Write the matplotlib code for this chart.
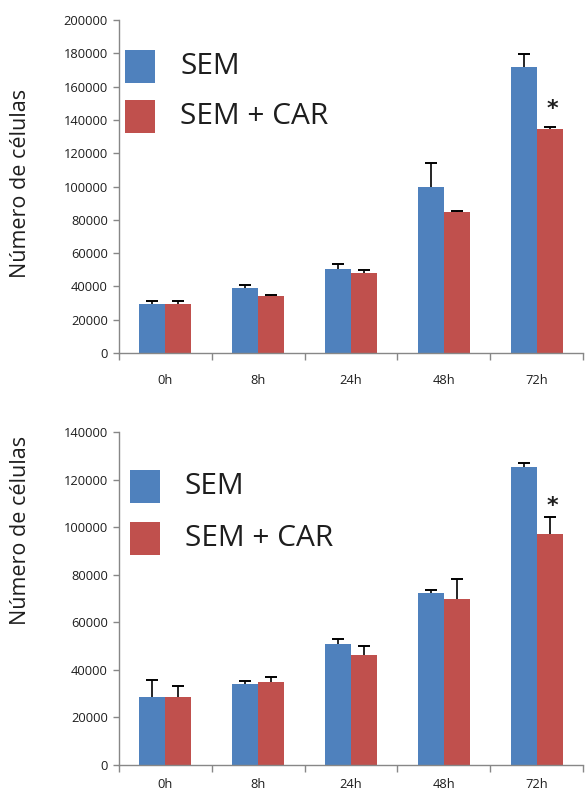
import matplotlib
matplotlib.use("Agg")
import matplotlib.pyplot as plt
from matplotlib.patches import Rectangle
import numpy as np

plt.rcParams['font.family'] = ['Open Sans', 'DejaVu Sans']

categories = ["0h", "8h", "24h", "48h", "72h"]
series_names = ["SEM", "SEM + CAR"]

# Top chart
top_sem = [29500, 39000, 50500, 100000, 172000]
top_sem_err = [1500, 1800, 3000, 14000, 7500]
top_car = [29500, 34500, 48000, 84500, 134500]
top_car_err = [1500, 300, 2000, 700, 1200]

# Bottom chart
bot_sem = [28600, 34000, 50900, 72300, 125300]
bot_sem_err = [7300, 1300, 2000, 1200, 1500]
bot_car = [28600, 34900, 46300, 69800, 97100]
bot_car_err = [4600, 2000, 3800, 8400, 7100]

top_ticks = list(range(0, 200001, 20000))
bot_ticks = list(range(0, 140001, 20000))

BLUE = "#4F81BD"
RED = "#C0504D"
AXGRAY = "#878787"
TXT = "#1e1e1e"

W, H = 585, 796
fig = plt.figure(figsize=(W / 100, H / 100), dpi=100)


def px_axes(left, top, right, bottom):
    return fig.add_axes([left / W, 1 - bottom / H, (right - left) / W, (bottom - top) / H])


def up_errors(ax, xs, vals, errs):
    vals = np.asarray(vals, dtype=float)
    tops = vals + np.asarray(errs, dtype=float)
    ax.vlines(xs, vals, tops, color='black', linewidth=1.2, zorder=3)
    ax.plot(xs, tops, linestyle='none', marker='_', markersize=9,
            markeredgewidth=1.4, color='black', zorder=3)


def legend_px(x0, y0, row_gap):
    sq_w, sq_h = 30, 33
    for k, (name, col) in enumerate(zip(series_names, [BLUE, RED])):
        top = y0 + k * row_gap
        fig.add_artist(Rectangle((x0 / W, 1 - (top + sq_h) / H), sq_w / W, sq_h / H,
                                 transform=fig.transFigure, facecolor=col,
                                 edgecolor='none'))
        fig.text((x0 + sq_w + 25) / W, 1 - (top + sq_h / 2) / H, name,
                 fontsize=21.5, color=TXT, ha='left', va='center')


def draw(ax, sem, sem_err, car, car_err, yticks, star_offset, ylabel_yc, xpad):
    x = np.arange(len(categories))
    bw = 0.28
    ax.bar(x - bw / 2, sem, bw, color=BLUE, zorder=2)
    ax.bar(x + bw / 2, car, bw, color=RED, zorder=2)
    up_errors(ax, x - bw / 2, sem, sem_err)
    up_errors(ax, x + bw / 2, car, car_err)
    ax.set_xlim(-0.5, len(categories) - 0.5)
    ax.set_ylim(yticks[0], yticks[-1])
    ax.set_yticks(yticks)
    ax.set_yticklabels([str(t) for t in yticks], fontsize=9.3, color=TXT)
    ax.set_xticks(np.arange(-0.5, len(categories), 1.0))
    ax.set_xticklabels([])
    ax.set_xticks(x, minor=True)
    ax.set_xticklabels(categories, minor=True, fontsize=9.3, color=TXT)
    ax.tick_params(axis='x', which='major', length=5, width=1, color=AXGRAY, direction='out')
    ax.tick_params(axis='x', which='minor', length=0, pad=xpad)
    ax.tick_params(axis='y', length=4, width=1, color=AXGRAY, direction='out', pad=4)
    for s in ['top', 'right']:
        ax.spines[s].set_visible(False)
    for s in ['left', 'bottom']:
        ax.spines[s].set_color(AXGRAY)
        ax.spines[s].set_linewidth(1)
    i = len(categories) - 1
    ax.annotate("*", xy=(i + bw / 2, car[i] + car_err[i]), xytext=(2, star_offset),
                textcoords='offset points', ha='center', va='center',
                fontsize=16, fontweight='bold', family='DejaVu Sans', color=TXT)
    fig.text(20 / W, 1 - ylabel_yc / H, "Número de células", rotation=90,
             ha='center', va='center', fontsize=15.5, color=TXT)


ax1 = px_axes(119, 20, 583, 353)
draw(ax1, top_sem, top_sem_err, top_car, top_car_err, top_ticks, 13, 183, 15)
legend_px(125, 50, 50)

ax2 = px_axes(119, 432, 583, 765)
draw(ax2, bot_sem, bot_sem_err, bot_car, bot_car_err, bot_ticks, 8, 530, 9)
legend_px(130, 470, 52)

fig.savefig("out.png", dpi=100)
